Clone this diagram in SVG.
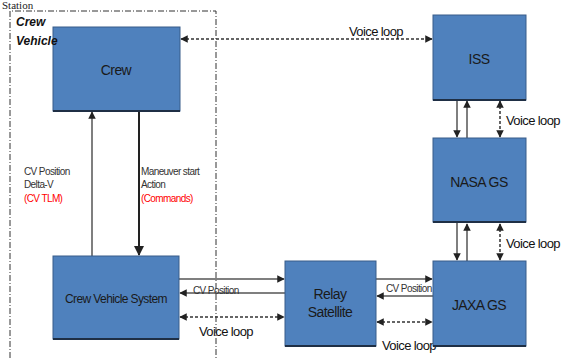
<svg xmlns="http://www.w3.org/2000/svg" width="568" height="358" viewBox="0 0 568 358">
<defs>
<style>
.box{fill:#4F81BD;stroke:#385D8A;stroke-width:1}
.shadow{stroke:#1F2F45;stroke-width:2}
.bt{font-family:"Liberation Sans",Arial,sans-serif;font-size:14px;fill:#1a1a1a;text-anchor:middle;letter-spacing:-0.6px}
.lbl{font-family:"Liberation Sans",Arial,sans-serif;font-size:10px;fill:#333;letter-spacing:-0.6px}
.red{fill:#FF0000}
.vl{font-family:"Liberation Sans",Arial,sans-serif;font-size:13px;fill:#111;letter-spacing:-0.6px}
.ln{stroke:#555;stroke-width:1.5;fill:none}
.dk{stroke:#222;stroke-width:2;fill:none}
.dot{stroke:#333;stroke-width:1.5;stroke-dasharray:3 2;fill:none}
.bound{stroke:#333;stroke-width:1;stroke-dasharray:6 2 1 2;fill:none}
.cv{font-family:"Liberation Sans",Arial,sans-serif;font-size:12px;font-weight:bold;font-style:italic;fill:#111}
</style>
<marker id="ah" viewBox="0 0 10 10" refX="9" refY="5" markerWidth="5" markerHeight="5" orient="auto-start-reverse">
<path d="M0,0 L10,5 L0,10 z" fill="#222"/>
</marker>
</defs>
<rect width="568" height="358" fill="#fff"/>
<text x="2" y="9" font-family="Liberation Serif,serif" font-size="11" fill="#222">Station</text>
<g id="boundary">
<path class="bound" d="M10,358 V11 H216 V358"/>
</g>
<g id="connectors">
<line class="dot" x1="181" y1="39" x2="432" y2="39" marker-start="url(#ah)" marker-end="url(#ah)"/>
<text class="vl" x="349" y="36">Voice loop</text>
<line class="ln" x1="92" y1="256" x2="92" y2="112" marker-end="url(#ah)"/>
<line class="dk" x1="139" y1="111" x2="139" y2="255" marker-end="url(#ah)"/>
<text class="lbl" x="24" y="175">CV Position</text>
<text class="lbl" x="24" y="188">Delta-V</text>
<text class="lbl red" x="24" y="202">(CV TLM)</text>
<text class="lbl" x="141" y="175">Maneuver start</text>
<text class="lbl" x="141" y="188">Action</text>
<text class="lbl red" x="141" y="202">(Commands)</text>
<line class="ln" x1="179" y1="279" x2="284" y2="279" marker-end="url(#ah)"/>
<line class="ln" x1="285" y1="293" x2="180" y2="293" marker-end="url(#ah)"/>
<text class="lbl" x="193" y="294">CV Position</text>
<line class="dot" x1="180" y1="317" x2="284" y2="317" marker-start="url(#ah)" marker-end="url(#ah)"/>
<text class="vl" x="199" y="336">Voice loop</text>
<line class="ln" x1="376" y1="279" x2="432" y2="279" marker-end="url(#ah)"/>
<line class="ln" x1="433" y1="296" x2="377" y2="296" marker-end="url(#ah)"/>
<rect x="385" y="283" width="53" height="11" fill="#fff"/>
<text class="lbl" x="386" y="292">CV Position</text>
<line class="dot" x1="377" y1="322" x2="432" y2="322" marker-start="url(#ah)" marker-end="url(#ah)"/>
<text class="vl" x="382" y="350">Voice loop</text>
<line class="ln" x1="457" y1="100" x2="457" y2="137" marker-end="url(#ah)"/>
<line class="ln" x1="467" y1="138" x2="467" y2="101" marker-end="url(#ah)"/>
<line class="dot" x1="500" y1="101" x2="500" y2="137" marker-start="url(#ah)" marker-end="url(#ah)"/>
<text class="vl" x="506" y="125">Voice loop</text>
<line class="ln" x1="457" y1="223" x2="457" y2="260" marker-end="url(#ah)"/>
<line class="ln" x1="467" y1="261" x2="467" y2="224" marker-end="url(#ah)"/>
<line class="dot" x1="500" y1="224" x2="500" y2="260" marker-start="url(#ah)" marker-end="url(#ah)"/>
<text class="vl" x="506" y="248">Voice loop</text>
</g>
<g id="crew">
<rect class="box" x="53" y="27" width="127" height="84"/>
<line class="shadow" x1="53" y1="111" x2="180" y2="111"/>
<text class="bt" x="116" y="75">Crew</text>
</g>
<g id="cvs">
<rect class="box" x="53" y="256" width="126" height="83"/>
<line class="shadow" x1="53" y1="339" x2="179" y2="339"/>
<text class="bt" x="116" y="303" style="font-size:12px">Crew Vehicle System</text>
</g>
<g id="relay">
<rect class="box" x="285" y="261" width="91" height="85"/>
<line class="shadow" x1="285" y1="346" x2="376" y2="346"/>
<text class="bt" x="330" y="299">Relay</text>
<text class="bt" x="330" y="317">Satellite</text>
</g>
<g id="iss">
<rect class="box" x="433" y="15" width="93" height="85"/>
<line class="shadow" x1="433" y1="100" x2="526" y2="100"/>
<text class="bt" x="479" y="64">ISS</text>
</g>
<g id="nasa">
<rect class="box" x="433" y="138" width="93" height="84"/>
<line class="shadow" x1="433" y1="222" x2="526" y2="222"/>
<text class="bt" x="479" y="187">NASA GS</text>
</g>
<g id="jaxa">
<rect class="box" x="433" y="261" width="93" height="85"/>
<line class="shadow" x1="433" y1="346" x2="526" y2="346"/>
<text class="bt" x="479" y="310">JAXA GS</text>
</g>
<g id="boundary-label">
<text class="cv" x="16" y="26">Crew</text>
<text class="cv" x="16" y="45">Vehicle</text>
</g>
</svg>
